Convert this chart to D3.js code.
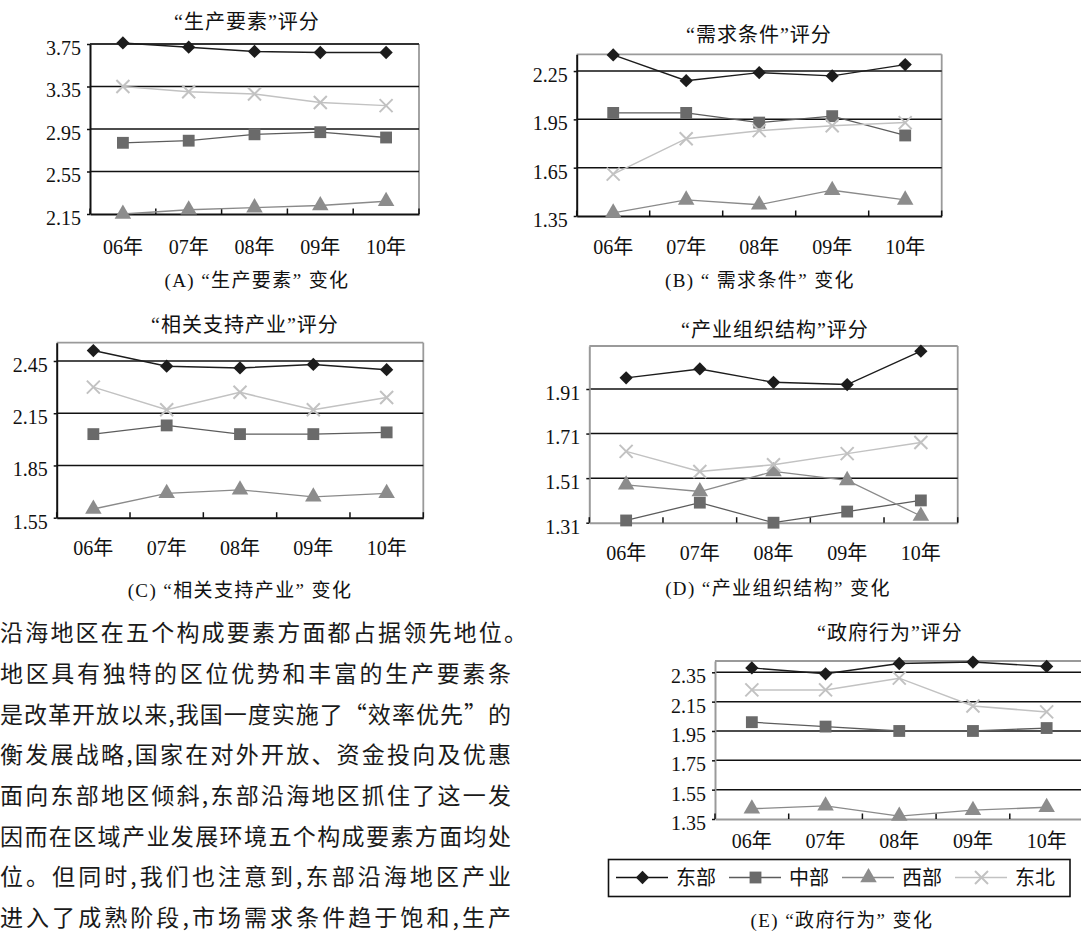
<!DOCTYPE html>
<html><head><meta charset="utf-8">
<script src="https://cdn.jsdelivr.net/npm/d3@7"></script>
<style>
html,body{margin:0;padding:0;background:#fff;overflow:hidden}
svg{display:block}
</style></head><body>
<script>
const years = ["06年","07年","08年","09年","10年"];
const regions = ["东部","中部","西部","东北"];

const prodEast      = [3.76,3.72,3.68,3.67,3.67];
const prodCentral   = [2.82,2.84,2.90,2.92,2.87];
const prodWest      = [2.15,2.19,2.21,2.23,2.27];
const prodNortheast = [3.35,3.30,3.28,3.20,3.17];
const prodTicks     = [2.15,2.55,2.95,3.35,3.75];
const prodDomain    = [2.15,3.75];

const demandEast      = [2.35,2.19,2.24,2.22,2.29];
const demandCentral   = [1.99,1.99,1.93,1.97,1.85];
const demandWest      = [1.37,1.45,1.42,1.51,1.45];
const demandNortheast = [1.61,1.83,1.88,1.91,1.93];
const demandTicks     = [1.35,1.65,1.95,2.25];
const demandDomain    = [1.35,2.354];

const supportEast      = [2.51,2.42,2.41,2.43,2.40];
const supportCentral   = [2.03,2.08,2.03,2.03,2.04];
const supportWest      = [1.60,1.69,1.71,1.67,1.69];
const supportNortheast = [2.30,2.17,2.27,2.17,2.24];
const supportTicks     = [1.55,1.85,2.15,2.45];
const supportDomain    = [1.55,2.555];

const orgEast      = [1.96,2.00,1.94,1.93,2.08];
const orgCentral   = [1.32,1.40,1.31,1.36,1.41];
const orgWest      = [1.48,1.45,1.54,1.50,1.34];
const orgNortheast = [1.63,1.54,1.57,1.62,1.67];
const orgTicks     = [1.31,1.51,1.71,1.91];
const orgDomain    = [1.31,2.103];

const govEast      = [2.38,2.34,2.41,2.42,2.39];
const govCentral   = [2.01,1.98,1.95,1.95,1.97];
const govWest      = [1.42,1.44,1.37,1.41,1.43];
const govNortheast = [2.23,2.23,2.31,2.12,2.08];
const govTicks     = [1.35,1.55,1.75,1.95,2.15,2.35];
const govDomain    = [1.35,2.427];

const bodyLines = [
  "沿海地区在五个构成要素方面都占据领先地位。",
  "地区具有独特的区位优势和丰富的生产要素条",
  "是改革开放以来,我国一度实施了“效率优先”的",
  "衡发展战略,国家在对外开放、资金投向及优惠",
  "面向东部地区倾斜,东部沿海地区抓住了这一发",
  "因而在区域产业发展环境五个构成要素方面均处",
  "位。但同时,我们也注意到,东部沿海地区产业",
  "进入了成熟阶段,市场需求条件趋于饱和,生产"
];

const W = 1081, H = 934;
const svg = d3.select("body").append("svg").attr("width", W).attr("height", H)
  .style("background", "#fff");

const FONT = "'Liberation Serif','Noto Sans CJK SC',serif";
const CJK = "'Noto Sans CJK SC',sans-serif";

const styles = [
  {line:"#1c1c1c", fill:"#1c1c1c", shape:"diamond", lw:1.4},
  {line:"#5c5c5c", fill:"#6a6a6a", shape:"square", lw:1.3},
  {line:"#8a8a8a", fill:"#8c8c8c", shape:"triangle", lw:1.3},
  {line:"#c2c2c2", fill:"#c2c2c2", shape:"x", lw:1.5}
];

function markerPath(shape){
  if (shape === "diamond") return d3.symbol(d3.symbolSquare, 88)();
  if (shape === "square") return d3.symbol(d3.symbolSquare, 140)();
  if (shape === "triangle") return d3.symbol(d3.symbolTriangle, 118)();
  return "M-6.5,-6.5L6.5,6.5M-6.5,6.5L6.5,-6.5";
}
function drawMarker(g, shape, st, cx, cy){
  const p = g.append("path").attr("d", markerPath(shape))
    .attr("transform", `translate(${cx},${cy})` + (shape === "diamond" ? " rotate(45)" : ""));
  if (shape === "x") p.attr("fill","none").attr("stroke", st.fill).attr("stroke-width", 2);
  else p.attr("fill", st.fill);
}

const charts = [
  {title:"“生产要素”评分", caption:"(A) “生产要素” 变化", series:[prodEast,prodCentral,prodWest,prodNortheast],
   ticks:prodTicks, domain:prodDomain, l:90, r:419, t:44, b:214, tx:247, ty:22, cx:257, cy:280, xly:247, axis:"#111"},
  {title:"“需求条件”评分", caption:"(B) “ 需求条件” 变化", series:[demandEast,demandCentral,demandWest,demandNortheast],
   ticks:demandTicks, domain:demandDomain, l:576.7, r:941.7, t:54.3, b:216, tx:759, ty:35, cx:760, cy:280, xly:247, axis:"#111"},
  {title:"“相关支持产业”评分", caption:"(C) “相关支持产业” 变化", series:[supportEast,supportCentral,supportWest,supportNortheast],
   ticks:supportTicks, domain:supportDomain, l:56.7, r:423.3, t:342.7, b:517.7, tx:245, ty:325, cx:240, cy:590, xly:548, axis:"#111"},
  {title:"“产业组织结构”评分", caption:"(D) “产业组织结构” 变化", series:[orgEast,orgCentral,orgWest,orgNortheast],
   ticks:orgTicks, domain:orgDomain, l:589.3, r:957.7, t:346, b:522.7, tx:775, ty:330, cx:778, cy:588, xly:553, axis:"#9a9a9a"},
  {title:"“政府行为”评分", caption:"(E) “政府行为” 变化", series:[govEast,govCentral,govWest,govNortheast],
   ticks:govTicks, domain:govDomain, l:715, r:1083.5, t:661, b:819, tx:890, ty:633, cx:842, cy:920, xly:841.5, axis:"#9a9a9a"}
];

function drawChart(c){
  const g = svg.append("g");
  const x = d3.scaleBand().domain(years).range([c.l, c.r]).padding(0);
  const y = d3.scaleLinear().domain(c.domain).range([c.b, c.t]);
  const cxOf = d => x(d) + x.bandwidth()/2;

  g.append("line").attr("x1", c.l).attr("x2", c.r).attr("y1", c.t).attr("y2", c.t)
    .attr("stroke", "#9a9a9a").attr("stroke-width", 1.8);
  g.append("line").attr("x1", c.r).attr("x2", c.r).attr("y1", c.t).attr("y2", c.b)
    .attr("stroke", "#9a9a9a").attr("stroke-width", 1.8);

  g.selectAll(".grid").data(c.ticks.filter(v => v > c.domain[0])).join("line")
    .attr("x1", c.l).attr("x2", c.r).attr("y1", d => y(d)).attr("y2", d => y(d))
    .attr("stroke", "#111").attr("stroke-width", 1.5);

  const ya = g.append("g").attr("transform", `translate(${c.l},0)`)
    .call(d3.axisLeft(y).tickValues(c.ticks).tickSize(3).tickSizeOuter(0).tickPadding(6).tickFormat(d3.format(".2f")));
  ya.select(".domain").attr("stroke", c.axis).attr("stroke-width", 2);
  ya.selectAll(".tick line").attr("stroke", "#111").attr("stroke-width", 1.5);
  ya.selectAll(".tick text").attr("font-family", FONT).attr("font-size", 20)
    .attr("fill", "#111").attr("dy", "0.52em");

  const xa = g.append("g").attr("transform", `translate(0,${c.b})`)
    .call(d3.axisBottom(x).tickSize(0).tickSizeOuter(0).tickPadding(c.xly - c.b - 7.4));
  xa.select(".domain").attr("stroke", c.axis).attr("stroke-width", 2);
  xa.selectAll(".tick text").attr("font-family", FONT).attr("font-size", 20).attr("fill", "#111");

  const bounds = years.map(d => x(d)).concat([c.r]);
  g.selectAll(".xt").data(bounds).join("line")
    .attr("x1", d => d).attr("x2", d => d).attr("y1", c.b).attr("y2", c.b - 5.5)
    .attr("stroke", "#111").attr("stroke-width", 1.5);

  const line = d3.line().x((d, i) => cxOf(years[i])).y(d => y(d));
  c.series.forEach((s, k) => {
    g.append("path").attr("d", line(s)).attr("fill", "none")
      .attr("stroke", styles[k].line).attr("stroke-width", styles[k].lw);
  });
  c.series.forEach((s, k) => {
    s.forEach((v, i) => drawMarker(g, styles[k].shape, styles[k], cxOf(years[i]), y(v)));
  });

  g.append("text").attr("x", c.tx).attr("y", c.ty).attr("dy", "0.35em").attr("text-anchor", "middle")
    .attr("font-family", FONT).attr("font-size", 20).attr("letter-spacing", 1).attr("fill", "#111").text(c.title);
  g.append("text").attr("x", c.cx).attr("y", c.cy).attr("dy", "0.35em").attr("text-anchor", "middle")
    .attr("font-family", FONT).attr("font-size", 19).attr("letter-spacing", 1.4).attr("fill", "#111").text(c.caption);
}
charts.forEach(drawChart);

const lg = svg.append("g");
lg.append("rect").attr("x", 608.5).attr("y", 859.5).attr("width", 461.5).attr("height", 37)
  .attr("fill", "none").attr("stroke", "#111").attr("stroke-width", 1.6);
const legX = d3.scalePoint().domain(regions).range([616, 955]);
regions.forEach((r, k) => {
  const x0 = legX(r), ly = 877.5;
  lg.append("line").attr("x1", x0).attr("x2", x0 + 52).attr("y1", ly).attr("y2", ly)
    .attr("stroke", k === 0 ? "#111" : styles[k].line).attr("stroke-width", 1.5);
  drawMarker(lg, styles[k].shape, styles[k], x0 + 26.5, ly);
  lg.append("text").attr("x", x0 + 60).attr("y", ly).attr("dy", "0.36em")
    .attr("font-family", CJK).attr("font-size", 20).attr("fill", "#111").text(r);
});

const bodyStart = [0, 0, 0, 0, 0, 0, 0, 0];
const bodyEnd   = [527, 511, 511, 511, 511, 511, 511, 511];
const ly0 = 633, lh = 40.7;
bodyLines.forEach((t, i) => {
  svg.append("text").attr("x", bodyStart[i]).attr("y", ly0 + i * lh).attr("dy", "0.36em")
    .attr("font-family", CJK).attr("font-size", 23).attr("fill", "#1a1a1a")
    .attr("textLength", bodyEnd[i] - bodyStart[i]).attr("lengthAdjust", "spacing").text(t);
});
</script>
</body></html>
